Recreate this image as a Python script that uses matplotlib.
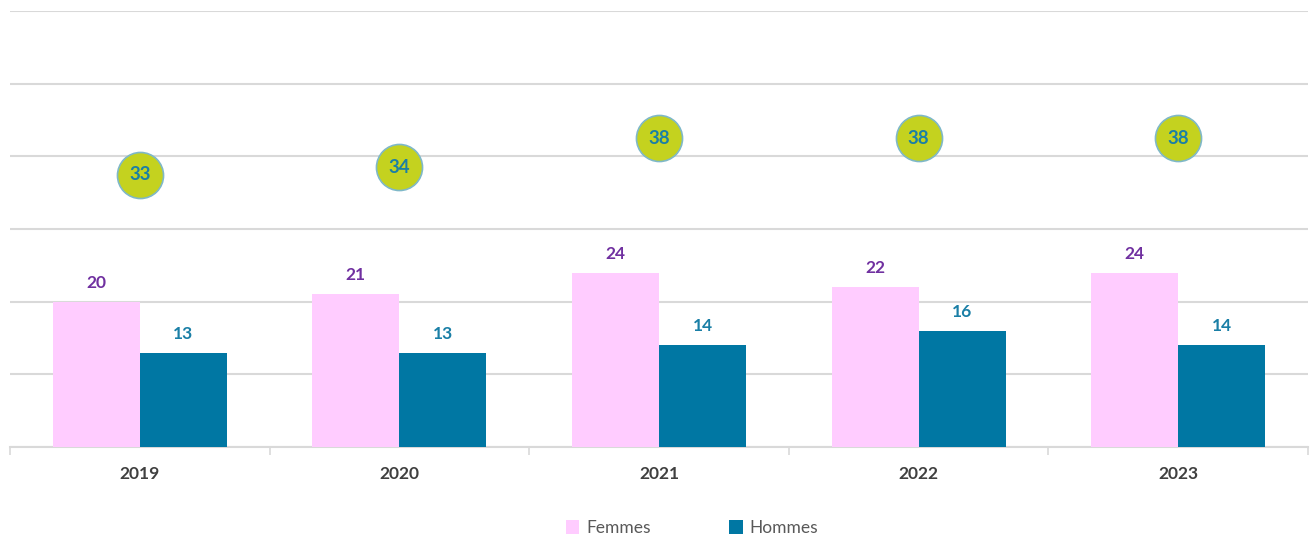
import matplotlib
matplotlib.use("Agg")
import matplotlib.pyplot as plt
import numpy as np

years = ["2019", "2020", "2021", "2022", "2023"]
femmes = [20, 21, 24, 22, 24]
hommes = [13, 13, 14, 16, 14]
totals = [33, 34, 38, 38, 38]

plt.rcParams['font.family'] = ['Lato', 'DejaVu Sans']

fig = plt.figure(figsize=(13.14, 5.41), dpi=100)
ax = fig.add_axes([10/1314, 94/541, 1298/1314, 436/541])

x = np.arange(len(years))
w = 0.335
pink = "#ffccff"
teal = "#0077a3"

ax.bar(x - w/2, femmes, w, color=pink, label="Femmes", zorder=3)
ax.bar(x + w/2, hommes, w, color=teal, label="Hommes", zorder=3)

for xi, v in zip(x, femmes):
    ax.text(xi - w/2, v + 1.5, str(v), ha="center", va="bottom", fontsize=12.5,
            fontweight="bold", color="#7030a0", zorder=4)
for xi, v in zip(x, hommes):
    ax.text(xi + w/2, v + 1.5, str(v), ha="center", va="bottom", fontsize=12.5,
            fontweight="bold", color="#1a7fa6", zorder=4)

circle_y = [t + 4.5 for t in totals]
ax.scatter(x, circle_y, s=1100, color="#c4d21f", edgecolor="#7fb8c8",
           linewidth=1.2, zorder=5)
for xi, yi, t in zip(x, circle_y, totals):
    ax.text(xi, yi, str(t), ha="center", va="center", fontsize=13.5,
            fontweight="bold", color="#1a7fa6", zorder=6)

ax.set_xlim(-0.5, len(years) - 0.5)
ax.set_ylim(0, 60)
ax.set_yticks(np.arange(0, 61, 10))
ax.yaxis.grid(True, color="#d9d9d9", linewidth=1.5, zorder=0)
ax.set_axisbelow(True)
ax.tick_params(axis="y", left=False, labelleft=False)
for s in ["top", "right", "left"]:
    ax.spines[s].set_visible(False)
ax.spines["bottom"].set_color("#d9d9d9")
ax.spines["bottom"].set_linewidth(1.5)

ax.set_xticks(x)
ax.set_xticklabels(years, fontsize=12.5, fontweight="bold", color="#404040")
ax.tick_params(axis="x", length=0, pad=14)
ax.set_xticks(np.arange(-0.5, len(years), 1.0), minor=True)
ax.tick_params(axis="x", which="minor", length=6, color="#d9d9d9", width=1.2)

leg = fig.legend(loc="center", bbox_to_anchor=(692/1314, 1 - 528/541), ncol=2,
                 frameon=False, fontsize=12.5, handlelength=0.8, handleheight=0.8,
                 columnspacing=4.5, handletextpad=0.4)
for t in leg.get_texts():
    t.set_color("#595959")

fig.savefig("out.png", dpi=100)
